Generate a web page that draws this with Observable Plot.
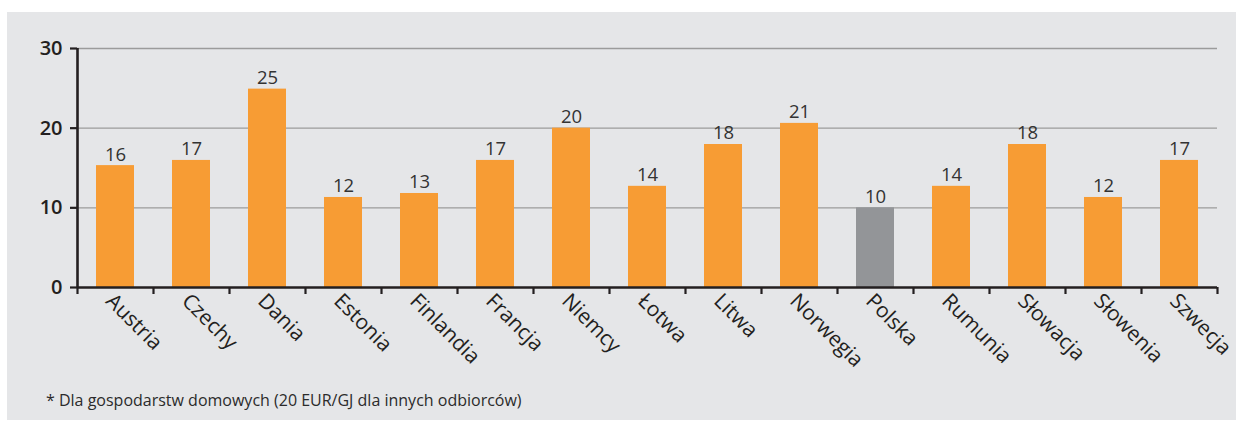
<!DOCTYPE html>
<html>
<head>
<meta charset="utf-8">
<script src="https://cdn.jsdelivr.net/npm/d3@7"></script>
<script src="https://cdn.jsdelivr.net/npm/@observablehq/plot@0.6"></script>
<style>
  html, body { margin: 0; padding: 0; background: #ffffff; }
  body { width: 1236px; height: 421px; position: relative; overflow: hidden; font-family: "Open Sans", sans-serif; }
  #panel { position: absolute; left: 7px; top: 12px; width: 1229px; height: 408px; background: #e5e6e8; }
  #chart { position: absolute; left: 0; top: 0; }
  #note { position: absolute; left: 39px; top: 378px; font-size: 16px; color: #2b2b2b; line-height: 20px; white-space: nowrap; }
</style>
</head>
<body>
<div id="panel">
  <div id="chart"></div>
  <div id="note">* Dla gospodarstw domowych (20 EUR/GJ dla innych odbiorców)</div>
</div>
<script>
const countries = ["Austria","Czechy","Dania","Estonia","Finlandia","Francja","Niemcy","Łotwa","Litwa","Norwegia","Polska","Rumunia","Słowacja","Słowenia","Szwecja"];
const barValues = [15.3, 15.95, 24.9, 11.3, 11.8, 15.95, 20.0, 12.7, 17.95, 20.6, 10.0, 12.7, 17.95, 11.3, 15.95];
const valueLabels = ["16","17","25","12","13","17","20","14","18","21","10","14","18","12","17"];
const yTicks = [0, 10, 20, 30];
const highlight = "Polska";

const orange = "#f79c34";
const grey = "#939598";
const ink = "#231f20";

const data = countries.map((c, i) => ({country: c, value: barValues[i], label: valueLabels[i]}));

const chart = Plot.plot({
  width: 1229,
  height: 380,
  marginLeft: 70,
  marginRight: 19,
  marginTop: 36,
  marginBottom: 105,
  style: {fontFamily: "'Open Sans', sans-serif", background: "transparent", color: ink, overflow: "visible"},
  x: {domain: countries, paddingInner: 0.5, paddingOuter: 0.25, label: null, axis: null},
  y: {domain: [0, 30], label: null, axis: null},
  marks: [
    Plot.gridY(yTicks.filter(t => t > 0), {stroke: "#9b9b9b", strokeOpacity: 1, strokeWidth: 1.3}),
    Plot.barY(data, {filter: d => d.country !== highlight, x: "country", y: "value", fill: orange}),
    Plot.barY(data, {filter: d => d.country === highlight, x: "country", y: "value", fill: grey}),
    Plot.text(data, {x: "country", y: "value", text: "label", lineAnchor: "bottom", dy: -5, fontSize: 18.5, fill: "#333333"}),
    Plot.ruleY([0], {stroke: ink, strokeWidth: 2.6}),
    Plot.ruleX([countries[0]], {dx: -38, y1: 0, y2: 30, stroke: ink, strokeWidth: 2.6}),
    Plot.axisY({ticks: yTicks, tickSize: 7, tickPadding: 8, fontSize: 20, fontWeight: 600, stroke: ink, strokeWidth: 2.2, fill: ink, label: null}),
    Plot.axisX({tickSize: 7, dx: -38, tickFormat: () => "", stroke: ink, strokeWidth: 2.2, label: null}),
    Plot.axisX({ticks: [countries[countries.length - 1]], tickSize: 7, dx: 38, tickFormat: () => "", stroke: ink, strokeWidth: 2.2, label: null}),
    Plot.axisX({tickSize: 0, tickRotate: 45, tickPadding: 10, dx: -6, fontSize: 21, fill: ink, label: null})
  ]
});
document.getElementById("chart").appendChild(chart);
</script>
</body>
</html>
